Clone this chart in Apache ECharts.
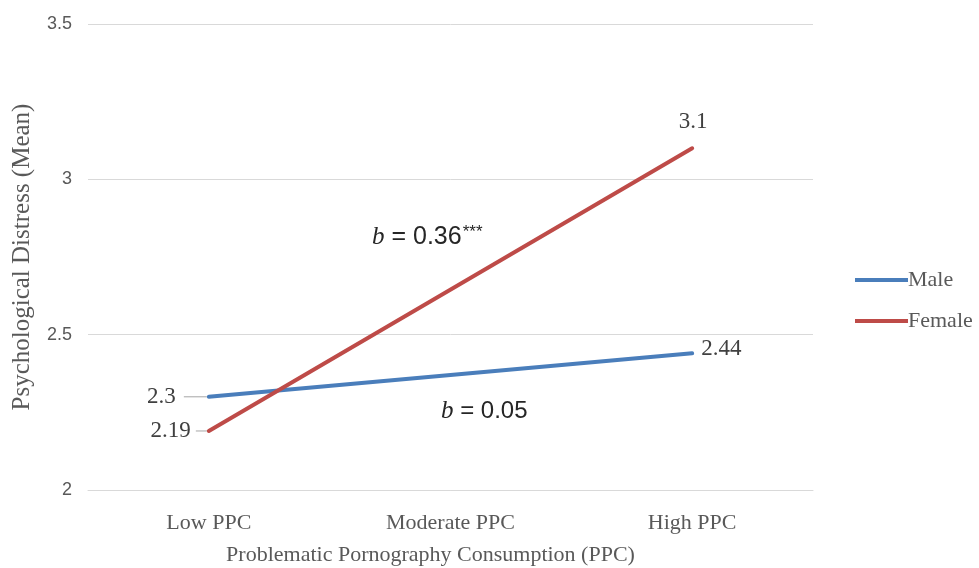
<!DOCTYPE html>
<html>
<head>
<meta charset="utf-8">
<script src="https://cdn.jsdelivr.net/npm/echarts@6/dist/echarts.min.js"></script>
<style>
  html, body { margin: 0; padding: 0; background: #fff; }
  #chart { width: 979px; height: 568px; }
</style>
</head>
<body>
<div id="chart"></div>
<script>
var categories = ["Low PPC", "Moderate PPC", "High PPC"];
var male = [2.3, null, 2.44];
var female = [2.19, null, 3.1];
var yTicks = [2, 2.5, 3, 3.5];

var serif = "Liberation Serif";
var sans = "Liberation Sans";

// attach a label setting to every point that has a value
function points(values, places) {
    var out = [];
    for (var i = 0; i < values.length; i++) {
        if (values[i] == null) {
            out.push(null);
            continue;
        }
        out.push({
            value: values[i],
            label: places[i]
        });
    }
    return out;
}

var chart = echarts.init(document.getElementById("chart"));
var option = {
    backgroundColor: "#ffffff",
    animation: false,
    grid: {
        left: 88,
        right: 166,
        top: 24,
        bottom: 78,
        outerBoundsMode: "none"
    },
    legend: {
        orient: "vertical",
        left: 850,
        top: 264,
        icon: "rect",
        itemWidth: 53,
        itemHeight: 4,
        itemGap: 19,
        textStyle: {
            fontFamily: serif,
            fontSize: 22,
            color: "#595959",
            padding: [0, 0, 0, -5]
        },
        data: ["Male", "Female"]
    },
    xAxis: {
        type: "category",
        data: categories,
        boundaryGap: true,
        axisLine: { show: true, lineStyle: { color: "#d9d9d9", width: 1 } },
        axisTick: { show: false },
        axisLabel: {
            fontFamily: serif,
            fontSize: 22,
            color: "#595959",
            margin: 22
        },
        name: "Problematic Pornography Consumption (PPC)",
        nameLocation: "middle",
        nameGap: 54,
        nameTextStyle: {
            fontFamily: serif,
            fontSize: 22,
            color: "#595959",
            padding: [0, 40, 0, 0]
        }
    },
    yAxis: {
        type: "value",
        min: yTicks[0],
        max: yTicks[yTicks.length - 1],
        interval: 0.5,
        axisLine: { show: false },
        axisTick: { show: false },
        splitLine: { lineStyle: { color: "#d9d9d9", width: 1 } },
        axisLabel: {
            fontFamily: sans,
            fontSize: 18,
            color: "#595959",
            margin: 16
        },
        name: "Psychological Distress (Mean)",
        nameLocation: "middle",
        nameGap: 53,
        nameTextStyle: {
            fontFamily: serif,
            fontSize: 25,
            color: "#595959"
        }
    },
    series: [{
            name: "Male",
            type: "line",
            data: points(male, [
                { show: true, position: "left", distance: 32 },
                null,
                { show: true, position: "right", distance: 8, offset: [0, -4] }
            ]),
            connectNulls: true,
            symbol: "circle",
            symbolSize: 2,
            itemStyle: { color: "#4a7ebb" },
            lineStyle: { color: "#4a7ebb", width: 4, cap: "round" },
            label: {
                fontFamily: serif,
                fontSize: 23,
                color: "#404040"
            },
            z: 3
        },
        {
            name: "Female",
            type: "line",
            data: points(female, [
                { show: true, position: "left", distance: 17 },
                null,
                { show: true, position: "top", distance: 14, offset: [1, 0] }
            ]),
            connectNulls: true,
            symbol: "circle",
            symbolSize: 2,
            itemStyle: { color: "#be4b48" },
            lineStyle: { color: "#be4b48", width: 4, cap: "round" },
            label: {
                fontFamily: serif,
                fontSize: 23,
                color: "#404040"
            },
            z: 4
        }
    ],
    graphic: [{
            type: "text",
            left: 372,
            top: 224,
            style: {
                text: "{i|b}{n| = 0.36}{s|***}",
                rich: {
                    i: { fontStyle: "italic", fontFamily: serif, fontSize: 25, fill: "#262626" },
                    n: { fontFamily: sans, fontSize: 25, fill: "#262626" },
                    s: { fontFamily: sans, fontSize: 17, fill: "#262626", padding: [0, 0, 10, 1] }
                }
            }
        },
        {
            type: "text",
            left: 441,
            top: 399,
            style: {
                text: "{i|b}{n| = 0.05}",
                rich: {
                    i: { fontStyle: "italic", fontFamily: serif, fontSize: 25, fill: "#262626" },
                    n: { fontFamily: sans, fontSize: 24, fill: "#262626" }
                }
            }
        }
    ]
};
chart.setOption(option);

// short grey leader lines between the left labels and the first points
var p1 = chart.convertToPixel({ seriesIndex: 0 }, [0, male[0]]);
var p2 = chart.convertToPixel({ seriesIndex: 1 }, [0, female[0]]);
var graphics = option.graphic.slice();
graphics.push({
    type: "line",
    shape: { x1: p1[0] - 25, y1: p1[1], x2: p1[0] - 2, y2: p1[1] },
    style: { stroke: "#a6a6a6", lineWidth: 1 }
});
graphics.push({
    type: "line",
    shape: { x1: p2[0] - 13, y1: p2[1], x2: p2[0] - 2, y2: p2[1] },
    style: { stroke: "#a6a6a6", lineWidth: 1 }
});
chart.setOption({ graphic: graphics });
</script>
</body>
</html>
